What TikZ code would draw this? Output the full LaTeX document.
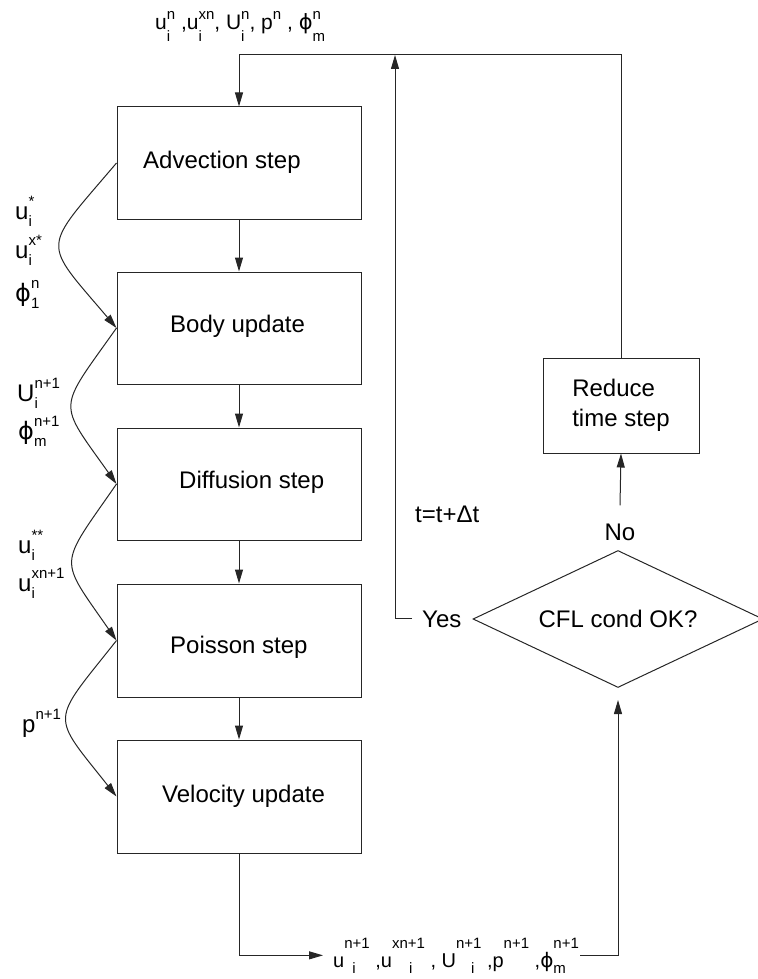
\documentclass[tikz,border=0pt]{standalone}
\usepackage{fontspec}
\setmainfont{Liberation Sans}
\newfontfamily\dvs{DejaVu Sans}
\usetikzlibrary{shapes.geometric,arrows.meta}
\newsavebox\supbox
\newsavebox\subbox
\newlength\supraise
\newlength\subdrop
\newcommand\phis{{\dvs ϕ}}
\newcommand\scrfont{\fontsize{16}{16}\selectfont}
\newcommand\ssc[3]{#1{\scrfont\sbox\supbox{#2}\sbox\subbox{#3}%
\rlap{\raisebox{\supraise}{\usebox\supbox}}\rlap{\raisebox{-\subdrop}{\usebox\subbox}}%
\ifdim\wd\supbox>\wd\subbox\kern\wd\supbox\else\kern\wd\subbox\fi}}
\newcommand\fntbig{\fontsize{24}{30}\selectfont}
\newcommand\fntleft{\fontsize{24}{30}\selectfont\setlength\supraise{13pt}\setlength\subdrop{7pt}\renewcommand\scrfont{\fontsize{15}{15}\selectfont}}
\newcommand\fnttop{\fontsize{21}{24}\selectfont\setlength\supraise{10pt}\setlength\subdrop{12pt}\renewcommand\scrfont{\fontsize{15}{15}\selectfont}}
\newcommand\fntbot{\fontsize{20}{24}\selectfont\setlength\supraise{19pt}\setlength\subdrop{6pt}\renewcommand\scrfont{\fontsize{15}{15}\selectfont}}
\tikzset{
  ln/.style={draw=black!85, line width=1pt},
  arr/.style={ln, -{Triangle[length=14pt,width=8pt]}},
  stepbox/.style={draw=black!85, line width=1pt, minimum width=244pt, minimum height=112pt, inner sep=0pt},
  boxtext/.style={font=\fntbig, inner sep=0pt, anchor=base west},
  plain/.style={font=\fntbig, inner sep=0pt},
  leftlbl/.style={font=\fntleft, inner sep=0pt, anchor=base west},
  toplbl/.style={font=\fnttop, inner sep=0pt, anchor=base west},
  botlbl/.style={font=\fntbot, inner sep=0pt, anchor=base west},
}
\begin{document}
\begin{tikzpicture}[x=1pt,y=-1pt]
\useasboundingbox (0,0) rectangle (757,979);
% step boxes
\node[stepbox] (adv) at (239,163) {};
\node[stepbox] (body) at (239,328) {};
\node[stepbox] (diff) at (239,484) {};
\node[stepbox, minimum height=113pt] (pois) at (239,640.5) {};
\node[stepbox, minimum height=113pt] (vel) at (239,796.5) {};
\node[boxtext] (advT) at (143,168) {Advection step};
\node[boxtext] (bodyT) at (170,332) {Body update};
\node[boxtext] (diffT) at (179,488) {Diffusion step};
\node[boxtext] (poisT) at (170,653) {Poisson step};
\node[boxtext] (velT) at (162,802) {Velocity update};
% right side
\node[draw=black!85, line width=1pt, minimum width=156pt, minimum height=95pt, inner sep=0pt, align=left, font=\fntbig] (red) at (621,405.5) {Reduce\\time step};
\node[diamond, draw=black!85, line width=1pt, aspect=2.2, minimum width=290pt, minimum height=137pt, inner sep=0pt, font=\fntbig] (cfl) at (618,619) {CFL cond OK?};
\node[plain, anchor=base west] (yes) at (422,627) {Yes};
\node[plain, anchor=base] (no) at (620,540) {No};
\node[plain, anchor=base west] (dt) at (415,522) {t=t+Δt};
% labels
\node[toplbl] (top) at (155,30) {\ssc{u}{n}{i} ,\ssc{u}{xn}{i}, \ssc{U}{n}{i}, \ssc{p}{n}{} , \ssc{\phis}{n}{m}};
\node[botlbl] (bot) at (333,967) {\ssc{u}{n+1}{\hspace*{8pt}i} ,\ssc{u}{xn+1}{\hspace*{17pt}i} , \ssc{U}{n+1}{\hspace*{15pt}i} ,\ssc{p}{n+1}{} ,\ssc{\phis}{n+1}{m}};
\node[leftlbl] (l1) at (15,219) {\ssc{u}{*}{i}};
\node[leftlbl] (l2) at (15,258) {\ssc{u}{x*}{i}};
\node[leftlbl] (l3) at (15,301) {\ssc{\phis}{n}{1}};
\node[leftlbl] (l4) at (17,401) {\ssc{U}{n+1}{i}};
\node[leftlbl] (l5) at (18,439) {\ssc{\phis}{n+1}{m}};
\node[leftlbl] (l6) at (18,553) {\ssc{u}{**}{i}};
\node[leftlbl] (l7) at (18,591) {\ssc{u}{xn+1}{i}};
\node[leftlbl] (l8) at (22,732) {\ssc{p}{n+1}{}};
% connectors
\coordinate (tl) at (239,55);
\coordinate (ytop) at (395,55);
\draw[arr] (red.north) |- (tl) -- (adv.north);
\draw[arr] ([xshift=-10pt]yes.west) -| (ytop);
\draw[arr] (adv.south) -- (body.north);
\draw[arr] (body.south) -- (diff.north);
\draw[arr] (diff.south) -- (pois.north);
\draw[arr] (pois.south) -- (vel.north);
\draw[arr] (adv.west) .. controls (41,252) and (41,239) .. (body.west);
\draw[arr] (body.west) .. controls (57,412) and (57,400) .. (diff.west);
\draw[arr] (diff.west) .. controls (58,568.5) and (58,556) .. (pois.west);
\draw[arr] (pois.west) .. controls (50,724.5) and (50,712.5) .. (vel.west);
\draw[arr] ([yshift=18pt]no.north) -- (red.south);
\draw[arr] (vel.south) |- ([xshift=-10pt]bot.west);
\draw[arr, shorten >=12pt] ([xshift=1pt]bot.east) -| (cfl.south);
\end{tikzpicture}
\end{document}
